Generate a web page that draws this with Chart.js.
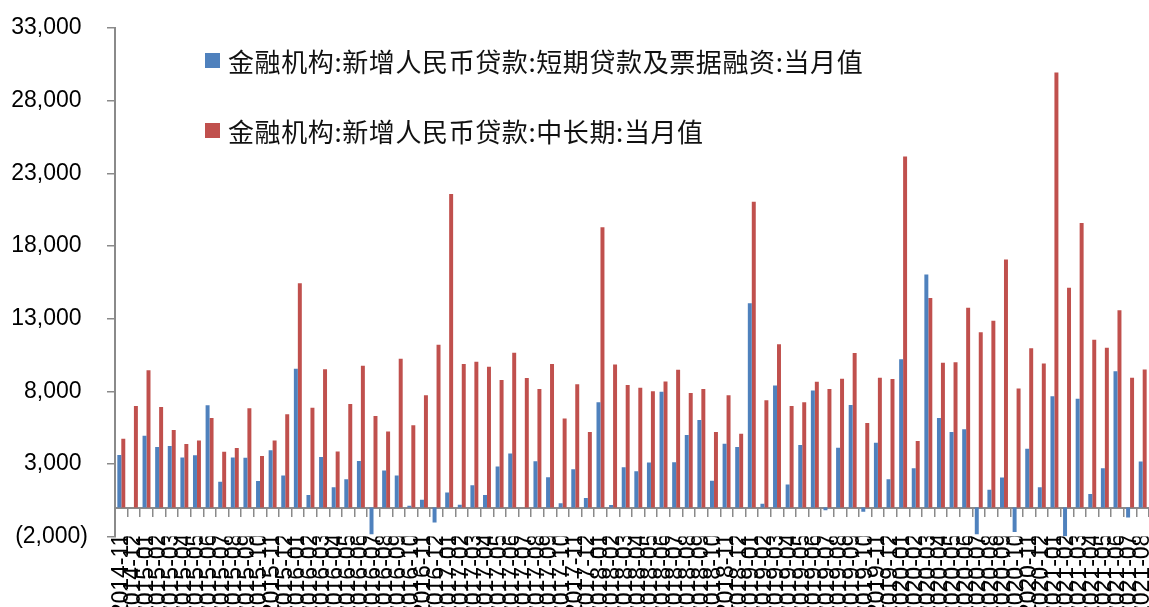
<!DOCTYPE html>
<html>
<head>
<meta charset="utf-8">
<script src="https://cdn.jsdelivr.net/npm/chart.js@4/dist/chart.umd.min.js"></script>
<style>
  body { margin: 0; background: #fff; }
  #wrap { position: relative; width: 1149px; height: 607px; }
  #legend { position: absolute; left: 205px; top: 42px; font-family: "Noto Sans CJK SC"; font-size: 26px; color: #111; letter-spacing: 0.6px; }
  .item { display: flex; align-items: center; height: 36px; margin-bottom: 34px; white-space: nowrap; }
  .swatch { width: 15px; height: 15px; margin-right: 8px; flex: none; }
</style>
</head>
<body>
<div id="wrap">
  <canvas id="chart" width="1149" height="607"></canvas>
  <div id="legend"></div>
</div>
<script>
// monthly new RMB loans, 100 million yuan
const months = [
  '2014-11', '2014-12',
  '2015-01', '2015-02', '2015-03', '2015-04', '2015-05', '2015-06', '2015-07', '2015-08', '2015-09', '2015-10', '2015-11', '2015-12',
  '2016-01', '2016-02', '2016-03', '2016-04', '2016-05', '2016-06', '2016-07', '2016-08', '2016-09', '2016-10', '2016-11', '2016-12',
  '2017-01', '2017-02', '2017-03', '2017-04', '2017-05', '2017-06', '2017-07', '2017-08', '2017-09', '2017-10', '2017-11', '2017-12',
  '2018-01', '2018-02', '2018-03', '2018-04', '2018-05', '2018-06', '2018-07', '2018-08', '2018-09', '2018-10', '2018-11', '2018-12',
  '2019-01', '2019-02', '2019-03', '2019-04', '2019-05', '2019-06', '2019-07', '2019-08', '2019-09', '2019-10', '2019-11', '2019-12',
  '2020-01', '2020-02', '2020-03', '2020-04', '2020-05', '2020-06', '2020-07', '2020-08', '2020-09', '2020-10', '2020-11', '2020-12',
  '2021-01', '2021-02', '2021-03', '2021-04', '2021-05', '2021-06', '2021-07', '2021-08'
];

const shortTerm = [
  3620, 0,
  4940, 4160, 4230, 3440, 3600, 7040, 1780, 3440, 3420, 1830, 3950, 2200,
  9550, 860, 3470, 1390, 1940, 3210, -1840, 2550, 2200, 120, 540, -1030,
  1040, 190, 1530, 860, 2820, 3720, 0, 3190, 2080, 300, 2640, 650,
  7250, 170, 2770, 2500, 3100, 7960, 3120, 4990, 6030, 1850, 4390, 4160,
  14050, 260, 8400, 1580, 4300, 8060, -180, 4110, 7060, -290, 4460, 1940,
  10200, 2700, 16030, 6160, 5200, 5380, -1840, 1230, 2060, -1680, 4040, 1390,
  7660, -1980, 7480, 930, 2700, 9370, -690, 3170
];

const longTerm = [
  4730, 6990,
  9440, 6920, 5330, 4370, 4620, 6160, 3830, 4090, 6830, 3540, 4620, 6420,
  15430, 6860, 9510, 3860, 7130, 9760, 6300, 5240, 10240, 5660, 7730, 11210,
  21570, 9880, 10040, 9690, 8770, 10660, 8910, 8150, 9880, 6120, 8490, 5200,
  19280, 9850, 8430, 8240, 8010, 8680, 9480, 7890, 8150, 5200, 7730, 5080,
  21040, 7390, 11240, 6990, 7250, 8650, 8150, 8860, 10640, 5820, 8930, 8840,
  24150, 4570, 14420, 9970, 9990, 13750, 12070, 12850, 17070, 8190, 10960, 9920,
  29940, 15130, 19580, 11540, 11000, 13570, 8930, 9500
];

const seriesNames = [
  '金融机构:新增人民币贷款:短期贷款及票据融资:当月值',
  '金融机构:新增人民币贷款:中长期:当月值'
];
const seriesColors = ['#4F81BD', '#C0504D'];

const yMin = -2000;
const yMax = 33000;
const yStep = 5000;

const axisGray = '#8a8a8a';
const tickFont = { family: 'Liberation Sans', size: 23 };

function fmtNum(v) {
  const s = Math.abs(v).toLocaleString('en-US');
  // negative numbers in parentheses, positives padded so the digits line up
  return v < 0 ? '(' + s + ')' : s + ' ';
}

const chart = new Chart(document.getElementById('chart'), {
  type: 'bar',
  data: {
    labels: months,
    datasets: [
      { label: seriesNames[0], data: shortTerm, backgroundColor: seriesColors[0], xAxisID: 'x' },
      { label: seriesNames[1], data: longTerm, backgroundColor: seriesColors[1], xAxisID: 'x' }
    ]
  },
  options: {
    responsive: false,
    animation: false,
    layout: { padding: { left: 11, top: 28, right: 0, bottom: 0 } },
    datasets: {
      bar: { categoryPercentage: 0.63, barPercentage: 1.0 }
    },
    plugins: {
      legend: { display: false },
      tooltip: { enabled: false }
    },
    scales: {
      // date labels, hanging just under the zero line
      x: {
        type: 'category',
        position: 'bottom',
        offset: true,
        grid: { display: false },
        border: { display: false },
        ticks: {
          autoSkip: false,
          minRotation: 90,
          maxRotation: 90,
          padding: -11,
          color: '#000',
          font: tickFont
        },
        afterFit: (scale) => { scale.paddingLeft = 0; scale.paddingRight = 0; }
      },
      // axis line + tick marks at y = 0
      x2: {
        type: 'category',
        position: { y: 0 },
        offset: true,
        grid: { offset: true, drawOnChartArea: false, drawTicks: true, tickLength: 8, color: axisGray, lineWidth: 1.5 },
        border: { display: true, color: axisGray, width: 2 },
        ticks: { display: false },
        afterFit: (scale) => { scale.height = 0; scale.paddingLeft = 0; scale.paddingRight = 0; }
      },
      y: {
        min: yMin,
        max: yMax,
        grid: { drawOnChartArea: false, drawTicks: true, tickLength: 8, color: axisGray, lineWidth: 1.5 },
        border: { display: true, color: axisGray, width: 2 },
        ticks: {
          stepSize: yStep,
          padding: 19,
          color: '#000',
          font: tickFont,
          callback: (v) => fmtNum(v)
        },
        afterFit: (scale) => { scale.width = 104; scale.paddingTop = 0; scale.paddingBottom = 0; }
      }
    }
  }
});

// legend list built from the datasets
const legend = document.getElementById('legend');
chart.data.datasets.forEach((ds) => {
  const row = document.createElement('div');
  row.className = 'item';
  const sw = document.createElement('span');
  sw.className = 'swatch';
  sw.style.background = ds.backgroundColor;
  const txt = document.createElement('span');
  txt.textContent = ds.label;
  row.appendChild(sw);
  row.appendChild(txt);
  legend.appendChild(row);
});
</script>
</body>
</html>
